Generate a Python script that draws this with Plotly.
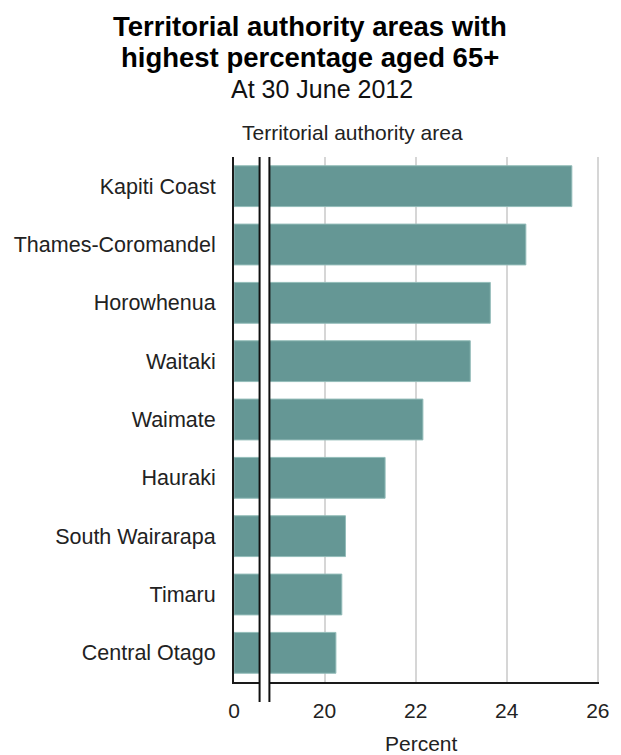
import plotly.graph_objects as go

# Territorial authority areas and share of population aged 65+ (%)
areas = [
    "Kapiti Coast",
    "Thames-Coromandel",
    "Horowhenua",
    "Waitaki",
    "Waimate",
    "Hauraki",
    "South Wairarapa",
    "Timaru",
    "Central Otago",
]
percent_65plus = [25.43, 24.42, 23.64, 23.20, 22.16, 21.33, 20.46, 20.38, 20.25]

low_ticks = [0]
high_ticks = [20, 22, 24, 26]

W, H = 621, 755
L, R, T, B = 234, 605, 157, 682          # plot area in pixels
BREAK_L, BREAK_R = 260, 270             # axis break gap in pixels
PX_PER_UNIT = 46.3

BAR = "#659795"
BAR_EDGE = "#93bcb9"
FONT = "Liberation Sans, Arial, sans-serif"


def px_x(p):
    return (p - L) / (R - L)


def px_y(p):
    return (B - p) / (B - T)


low_range = [0, (BREAK_L - L) / PX_PER_UNIT]
high_range = [20 - (326 - BREAK_R) / PX_PER_UNIT, 20 + (R - 326) / PX_PER_UNIT]

fig = go.Figure()
for xa in ("x", "x2"):
    fig.add_trace(go.Bar(
        x=percent_65plus, y=areas, orientation="h", xaxis=xa, yaxis="y",
        width=0.7, marker=dict(color=BAR, line=dict(color=BAR_EDGE, width=1)),
        showlegend=False, hoverinfo="x+y",
    ))

axis_common = dict(
    showline=True, linecolor="#1a1a1a", linewidth=2, zeroline=False,
    ticks="outside", ticklen=9, tickcolor="rgba(0,0,0,0)",
    tickfont=dict(family=FONT, size=21, color="#222"),
    fixedrange=True,
)

fig.update_layout(
    width=W, height=H,
    margin=dict(l=L, r=W - R, t=T, b=H - B, pad=0),
    paper_bgcolor="white", plot_bgcolor="white",
    barmode="overlay",
    xaxis=dict(domain=[0, px_x(BREAK_L)], range=low_range, anchor="y",
               tickmode="array", tickvals=low_ticks, ticktext=[str(v) for v in low_ticks],
               showgrid=False, **axis_common),
    xaxis2=dict(domain=[px_x(BREAK_R), 1], range=high_range, anchor="y",
                tickmode="array", tickvals=high_ticks, ticktext=[str(v) for v in high_ticks],
                showgrid=True, gridcolor="#d6d6d6", gridwidth=2, **axis_common),
    yaxis=dict(anchor="x", type="category", categoryorder="array", categoryarray=areas,
               autorange="reversed", showline=True, linecolor="#1a1a1a", linewidth=2,
               showgrid=False, ticks="outside", ticklen=12, tickcolor="rgba(0,0,0,0)",
               tickfont=dict(family=FONT, size=21.5, color="#222"), fixedrange=True),
)

# Break marks: two vertical rules running through the bars and below the axis
for ref, xv in (("x domain", 1), ("x2 domain", 0)):
    fig.add_shape(type="line", xref=ref, yref="paper", x0=xv, x1=xv,
                  y0=px_y(702), y1=1, line=dict(color="#111", width=2))

annotations = [
    dict(text="<b>Territorial authority areas with</b>", x=px_x(311), y=px_y(26), size=27.5, color="#000"),
    dict(text="<b>highest percentage aged 65+</b>", x=px_x(311), y=px_y(58), size=27.5, color="#000"),
    dict(text="At 30 June 2012", x=px_x(323), y=px_y(89), size=25, color="#111"),
    dict(text="Territorial authority area", x=px_x(354), y=px_y(133), size=21, color="#222"),
    dict(text="Percent", x=px_x(425), y=px_y(743), size=21, color="#222"),
]
for a in annotations:
    fig.add_annotation(text=a["text"], x=a["x"], y=a["y"], xref="paper", yref="paper",
                       xanchor="center", yanchor="middle", showarrow=False,
                       font=dict(family=FONT, size=a["size"], color=a["color"]))

fig.write_html("out.html")
